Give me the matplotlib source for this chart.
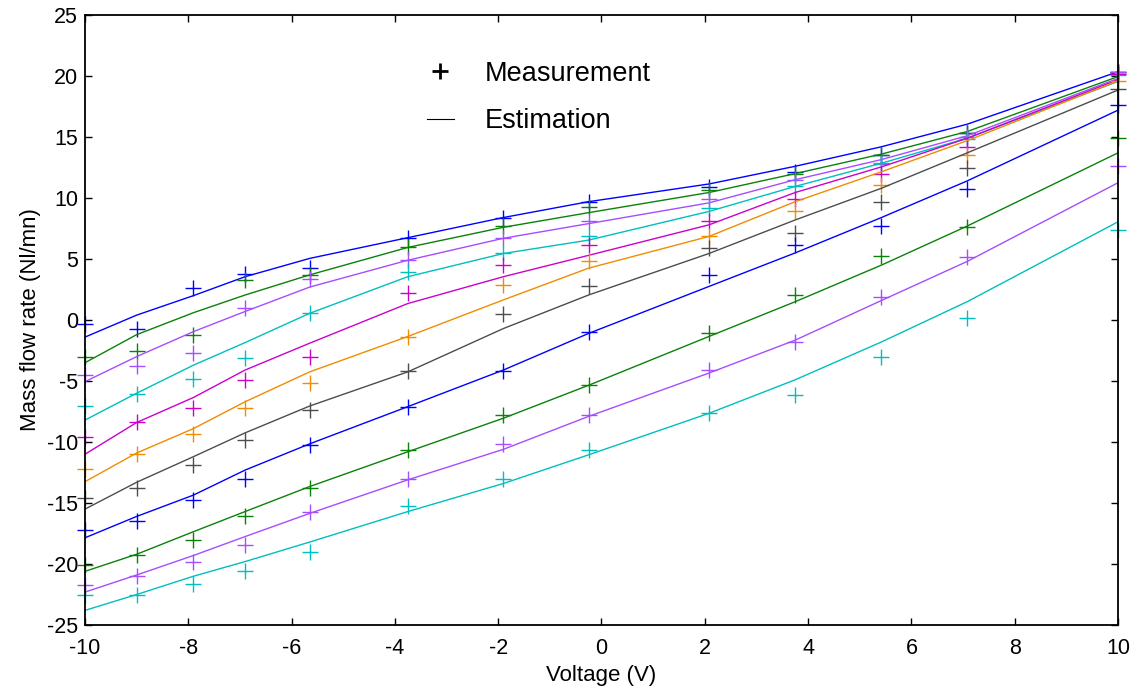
import matplotlib.pyplot as plt
from matplotlib.lines import Line2D

plt.rcParams['font.family'] = ['Liberation Sans', 'DejaVu Sans']
plt.rcParams['axes.unicode_minus'] = False

# Voltage points (V)
voltage = [-10, -9, -7.9, -6.9, -5.65, -3.75, -1.9, -0.25, 2.08, 3.75, 5.42, 7.08, 10]

# Measured mass flow rate (Nl/mn), one list per curve (top to bottom)
meas_1 = [-0.3, -0.7, 2.6, 3.8, 4.25, 6.7, 8.4, 9.7, 10.9, 12.1, 13.5, 15.3, 20.35]
meas_2 = [-3.0, -2.5, -1.2, 3.3, 3.7, 5.95, 7.7, 9.3, 10.65, 12.0, 13.5, 15.3, 20.3]
meas_3 = [-4.5, -3.8, -2.7, 0.95, 3.4, 4.9, 6.7, 8.15, 9.95, 11.5, 12.8, 15.0, 20.3]
meas_4 = [-7.05, -6.1, -4.85, -3.15, 0.6, 3.95, 5.5, 6.85, 9.2, 10.95, 12.9, 14.8, 20.1]
meas_5 = [-9.6, -8.4, -7.2, -4.9, -3.0, 2.25, 4.5, 6.15, 8.15, 9.95, 12.0, 14.2, 20.2]
meas_6 = [-12.25, -11.0, -9.35, -7.25, -5.2, -1.4, 2.9, 4.85, 6.9, 8.9, 11.05, 13.5, 19.6]
meas_7 = [-14.6, -13.8, -11.9, -9.85, -7.4, -4.15, 0.5, 2.8, 5.9, 7.15, 9.7, 12.45, 18.95]
meas_8 = [-17.2, -16.45, -14.75, -13.0, -10.25, -7.15, -4.15, -0.95, 3.7, 6.15, 7.7, 10.7, 17.6]
meas_9 = [-20.1, -19.3, -18.0, -16.1, -13.8, -10.65, -7.8, -5.35, -1.1, 2.05, 5.25, 7.6, 14.95]
meas_10 = [-21.7, -21.0, -19.8, -18.45, -15.7, -13.0, -10.15, -7.8, -4.1, -1.8, 1.9, 5.2, 12.6]
meas_11 = [-22.5, -22.5, -21.6, -20.6, -19.05, -15.25, -13.0, -10.65, -7.6, -6.15, -3.0, 0.2, 7.4]

# Estimated mass flow rate (Nl/mn)
est_1 = [-1.4, 0.4, 2.0, 3.55, 5.05, 6.75, 8.4, 9.7, 11.15, 12.6, 14.2, 16.05, 20.35]
est_2 = [-3.5, -1.2, 0.6, 2.05, 3.7, 5.95, 7.6, 8.8, 10.45, 12.0, 13.6, 15.45, 19.95]
est_3 = [-5.05, -3.0, -0.95, 0.7, 2.7, 4.9, 6.7, 7.9, 9.6, 11.5, 13.15, 15.1, 19.8]
est_4 = [-8.2, -6.0, -3.7, -1.85, 0.55, 3.55, 5.45, 6.55, 8.9, 10.95, 12.85, 14.9, 19.55]
est_5 = [-11.0, -8.4, -6.35, -4.1, -1.9, 1.35, 3.55, 5.3, 7.8, 10.45, 12.55, 14.9, 19.7]
est_6 = [-13.25, -10.9, -8.9, -6.7, -4.25, -1.35, 1.65, 4.25, 6.85, 9.7, 12.15, 14.7, 19.6]
est_7 = [-15.5, -13.3, -11.2, -9.25, -7.05, -4.25, -0.7, 2.05, 5.45, 8.2, 10.8, 13.7, 18.85]
est_8 = [-17.85, -16.1, -14.35, -12.3, -10.15, -7.1, -4.1, -1.1, 2.75, 5.5, 8.4, 11.4, 17.2]
est_9 = [-20.6, -19.2, -17.35, -15.7, -13.65, -10.8, -8.05, -5.35, -1.35, 1.5, 4.5, 7.7, 13.7]
est_10 = [-22.3, -20.9, -19.3, -17.75, -15.85, -13.1, -10.6, -7.9, -4.35, -1.65, 1.6, 4.8, 11.25]
est_11 = [-23.8, -22.5, -21.0, -19.8, -18.2, -15.7, -13.4, -11.05, -7.65, -4.9, -1.8, 1.5, 8.05]

measurements = [meas_1, meas_2, meas_3, meas_4, meas_5, meas_6,
                meas_7, meas_8, meas_9, meas_10, meas_11]
estimations = [est_1, est_2, est_3, est_4, est_5, est_6,
               est_7, est_8, est_9, est_10, est_11]

colors = ['#0000ff', '#0a820a', '#a64dff', '#00bfbf', '#cc00cc', '#f08c00',
          '#4d4d4d', '#0000ff', '#0a820a', '#a64dff', '#00bfbf']

fig = plt.figure(figsize=(11.38, 6.95), dpi=100)
ax = fig.add_axes([0.0747, 0.1007, 0.9077, 0.8777])

for meas, est, c in zip(measurements, estimations, colors):
    ax.plot(voltage, meas, linestyle='None', marker='+', markersize=12,
            markeredgewidth=1.0, color=c, clip_on=False)
    ax.plot(voltage, est, color=c, linewidth=1.0)

ax.set_xlim(-10, 10)
ax.set_ylim(-25, 25)
ax.set_xticks(range(-10, 11, 2))
ax.set_yticks(range(-25, 26, 5))
ax.tick_params(direction='in', top=True, right=True, length=5, width=1,
               labelsize=15.5)
ax.tick_params(axis='x', pad=9)
ax.tick_params(axis='y', pad=5)
for s in ax.spines.values():
    s.set_linewidth(1.3)

ax.set_xlabel('Voltage (V)', fontsize=16, labelpad=5)
ax.set_ylabel('Mass flow rate (Nl/mn)', fontsize=16, labelpad=4)

handles = [Line2D([], [], color='k', marker='+', linestyle='None',
                  markersize=11, markeredgewidth=2),
           Line2D([], [], color='k', linewidth=0.8)]
ax.legend(handles, ['Measurement', 'Estimation'], loc='upper left',
          bbox_to_anchor=(0.331, 0.925), frameon=False, fontsize=19.5,
          handlelength=1.0, handletextpad=1.15, labelspacing=0.8,
          borderpad=0, borderaxespad=0)

fig.savefig('out.png', dpi=100)
